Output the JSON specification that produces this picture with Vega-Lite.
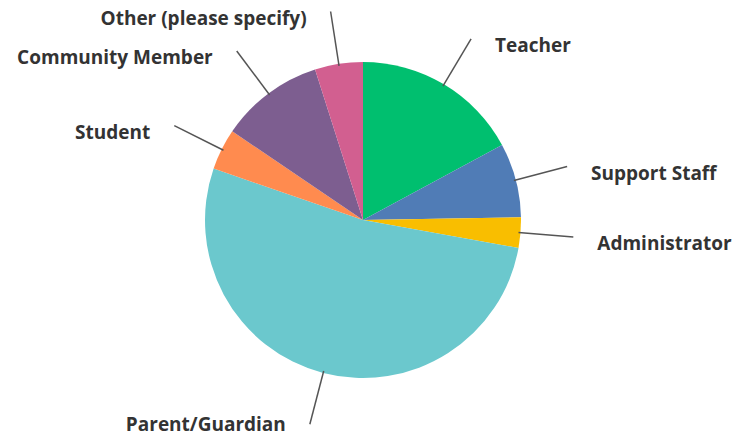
{
  "$schema": "https://vega.github.io/schema/vega-lite/v6.json",
  "width": 726,
  "height": 436,
  "autosize": "none",
  "padding": {"left": 0, "right": 11, "top": 2, "bottom": 0},
  "background": "white",
  "config": {"view": {"stroke": null}},
  "data": {
    "values": [
      {"category": "Teacher", "value": 17.1},
      {"category": "Support Staff", "value": 7.6},
      {"category": "Administrator", "value": 3.1},
      {"category": "Parent/Guardian", "value": 52.4},
      {"category": "Student", "value": 4.2},
      {"category": "Community Member", "value": 10.6},
      {"category": "Other (please specify)", "value": 4.9}
    ]
  },
  "transform": [
    {"window": [{"op": "row_number", "as": "idx"}]},
    {"joinaggregate": [{"op": "sum", "field": "value", "as": "total"}]},
    {"window": [{"op": "sum", "field": "value", "as": "cum"}], "sort": [{"field": "idx"}], "frame": [null, 0]},
    {"calculate": "(datum.cum - datum.value / 2) / datum.total * 2 * PI", "as": "mid"},
    {"calculate": "156 * sin(datum.mid)", "as": "x1"},
    {"calculate": "156 * cos(datum.mid)", "as": "y1"},
    {"calculate": "211 * sin(datum.mid)", "as": "x2"},
    {"calculate": "211 * cos(datum.mid)", "as": "y2"}
  ],
  "layer": [
    {
      "mark": {"type": "arc", "outerRadius": 158},
      "encoding": {
        "theta": {"field": "value", "type": "quantitative", "stack": true},
        "order": {"field": "idx", "type": "quantitative", "sort": "ascending"},
        "color": {
          "field": "category",
          "type": "nominal",
          "legend": null,
          "scale": {
            "domain": ["Teacher", "Support Staff", "Administrator", "Parent/Guardian", "Student", "Community Member", "Other (please specify)"],
            "range": ["#00BF6F", "#507CB6", "#F9BE00", "#6BC8CD", "#FF8B4F", "#7D5E90", "#D25F90"]
          }
        }
      }
    },
    {
      "mark": {"type": "rule", "color": "#555555", "strokeWidth": 1.5},
      "encoding": {
        "x": {"field": "x1", "type": "quantitative", "axis": null, "scale": {"domain": [-363, 363], "nice": false, "zero": false}},
        "y": {"field": "y1", "type": "quantitative", "axis": null, "scale": {"domain": [-218, 218], "nice": false, "zero": false}},
        "x2": {"field": "x2"},
        "y2": {"field": "y2"}
      }
    },
    {
      "transform": [{"filter": "datum.mid < PI"}],
      "mark": {"type": "text", "align": "left", "baseline": "middle", "dx": 24, "dy": 7, "font": "Open Sans", "fontWeight": 700, "fontSize": 19, "color": "#333333"},
      "encoding": {
        "x": {"field": "x2", "type": "quantitative"},
        "y": {"field": "y2", "type": "quantitative"},
        "text": {"field": "category"}
      }
    },
    {
      "transform": [{"filter": "datum.mid >= PI && cos(datum.mid) >= 0"}],
      "mark": {"type": "text", "align": "right", "baseline": "middle", "dx": -24, "dy": 7, "font": "Open Sans", "fontWeight": 700, "fontSize": 19, "color": "#333333"},
      "encoding": {
        "x": {"field": "x2", "type": "quantitative"},
        "y": {"field": "y2", "type": "quantitative"},
        "text": {"field": "category"}
      }
    },
    {
      "transform": [{"filter": "datum.mid >= PI && cos(datum.mid) < 0"}],
      "mark": {"type": "text", "align": "right", "baseline": "middle", "dx": -24, "dy": 1, "font": "Open Sans", "fontWeight": 700, "fontSize": 19, "color": "#333333"},
      "encoding": {
        "x": {"field": "x2", "type": "quantitative"},
        "y": {"field": "y2", "type": "quantitative"},
        "text": {"field": "category"}
      }
    }
  ]
}
